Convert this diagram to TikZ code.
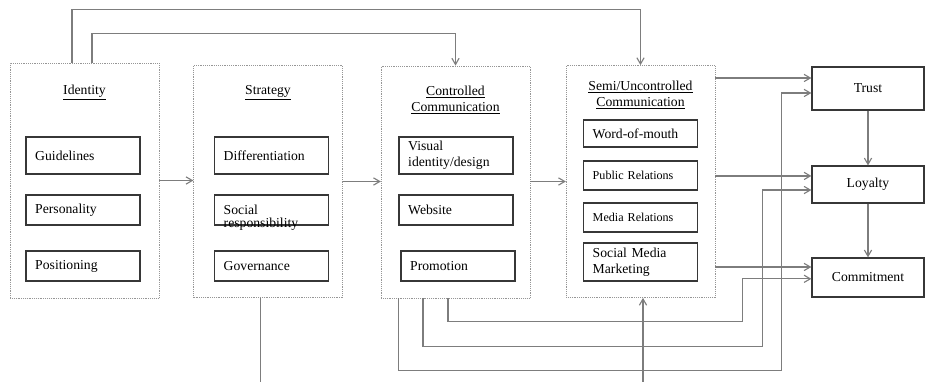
\documentclass[tikz,border=0pt]{standalone}
\usepackage{fontspec}
\setmainfont{Liberation Serif}
\usetikzlibrary{arrows.meta,positioning}

\definecolor{linegray}{RGB}{125,125,125}
\definecolor{dotgray}{RGB}{150,150,150}
\definecolor{boxgray}{RGB}{55,55,55}

\tikzset{
  outer/.style={draw=dotgray, densely dotted, minimum width=113pt, minimum height=176.5pt, inner sep=0pt},
  inbox/.style={draw=boxgray, line width=1pt, text width=72.6pt, inner xsep=7pt, inner ysep=2pt, align=left, minimum height=23pt},
  endbox/.style={draw=boxgray, line width=1pt, minimum width=85pt, minimum height=29pt},
  small/.style={font=\fontsize{9.2}{11}\selectfont},
  arr/.style={draw=linegray, line width=0.85pt, -{Straight Barb[angle=60:5.5pt]}},
}

\begin{document}
\begin{tikzpicture}[x=0.76pt,y=-0.76pt,font=\fontsize{10.4}{12.5}\selectfont]
  \useasboundingbox (0,0) rectangle (925,382);

  \draw (84.5,180.5) node[outer, minimum height=178.6pt] (ident) {};
  \draw (268,181.5) node[outer] (strat) {};
  \draw (455.5,182) node[outer] (ctrl) {};
  \draw (640.5,181.5) node[outer] (semi) {};

  \draw (84.5,93) node (identT) {\underline{Identity}};
  \draw (268,93) node (stratT) {\underline{Strategy}};
  \draw (455.5,100) node[align=center] (ctrlT) {\underline{Controlled}\\\underline{Communication}};
  \draw (640.5,95) node[align=center] (semiT) {\underline{Semi/Uncontrolled}\\\underline{Communication}};

      \draw (83,155.5) node[inbox, minimum height=28pt] (guide) {Guidelines};
      \draw (83,210) node[inbox] (person) {Personality};
      \draw (83,266) node[inbox] (posit) {Positioning};

      \draw (271.5,155.5) node[inbox, minimum height=28pt] (diff) {Differentiation};
      \draw (271.5,210) node[inbox, text depth=1pt, inner ysep=0pt] (social) {Social\\[-2pt]responsibility};
      \draw (271.5,266) node[inbox] (gov) {Governance};

      \draw (456,155.5) node[inbox, minimum height=28pt] (visual) {Visual\\identity/design};
      \draw (456,210) node[inbox] (web) {Website};
      \draw (458,266) node[inbox] (promo) {Promotion};

      \draw (640.5,133.5) node[inbox, minimum height=20.5pt] (wom) {Word-of-mouth};
      \draw (640.5,175.5) node[inbox, small, minimum height=22pt] (pr) {Public Relations};
      \draw (640.5,217.5) node[inbox, small, minimum height=22pt] (media) {Media Relations};
      \draw (640.5,262) node[inbox, minimum height=29pt] (smm) {Social Media\\Marketing};

    \draw (868,88.5) node[endbox, minimum height=32.7pt] (trust) {Trust};
    \draw (868,184.5) node[endbox, minimum height=28pt] (loyal) {Loyalty};
    \draw (868,277.5) node[endbox, minimum height=29.6pt] (commit) {Commitment};

    \draw[arr] (ident.east) -- (ident.east -| strat.west);
    \draw[arr] (strat.east) -- (strat.east -| ctrl.west);
    \draw[arr] (ctrl.east |- strat.east) -- (strat.east -| semi.west);
    \draw[arr] (trust) -- (loyal);
    \draw[arr] (loyal) -- (commit);

    \draw[arr] ([xshift=-9.5pt]ident.north) -- ++(0,-53) -| (semi.north);
    \draw[arr] ([xshift=5.7pt]ident.north) -- ++(0,-29) -| (ctrl.north);

    \draw[arr] ([yshift=8pt]trust.west -| semi.east) -- ([yshift=8pt]trust.west);
    \draw[arr] ([yshift=6.5pt]loyal.west -| semi.east) -- ([yshift=6.5pt]loyal.west);
    \draw[arr] ([yshift=8pt]commit.west -| semi.east) -- ([yshift=8pt]commit.west);

    \draw[arr] ([xshift=-43pt]ctrl.south) -- ++(0,72) -| ([xshift=-22.8pt,yshift=-3.4pt]trust.west) -- ([yshift=-3.4pt]trust.west);
    \draw[arr] ([xshift=-24.7pt]ctrl.south) -- ++(0,48) -| ([xshift=-37.2pt,yshift=-4.2pt]loyal.west) -- ([yshift=-4.2pt]loyal.west);
    \draw[arr] ([xshift=-5.7pt]ctrl.south) -- ++(0,23) -| ([xshift=-52.4pt,yshift=-1pt]commit.west) -- ([yshift=-1pt]commit.west);

    \draw[arr] ([xshift=-6pt]strat.south) -- ++(0,97) -| ([xshift=1.9pt]semi.south);

\end{tikzpicture}
\end{document}
